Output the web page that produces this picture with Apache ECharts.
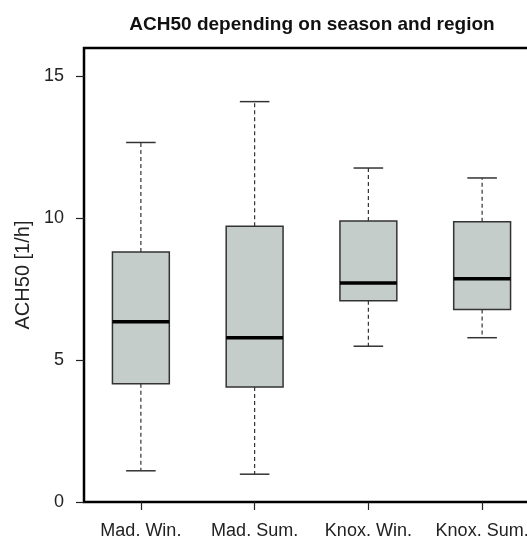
<!DOCTYPE html>
<html>
<head>
<meta charset="utf-8">
<script src="https://cdn.jsdelivr.net/npm/echarts@6/dist/echarts.min.js"></script>
<style>
  html, body { margin: 0; padding: 0; background: #fff; }
  #chart { width: 527px; height: 539px; }
</style>
</head>
<body>
<div id="chart"></div>
<script>
const categories = ['Mad. Win.', 'Mad. Sum.', 'Knox. Win.', 'Knox. Sum.'];
const whiskerLow = [1.10, 0.98, 5.49, 5.79];
const q1 = [4.17, 4.05, 7.09, 6.78];
const median = [6.35, 5.79, 7.72, 7.87];
const q3 = [8.81, 9.72, 9.90, 9.88];
const whiskerHigh = [12.67, 14.11, 11.77, 11.42];
const yTicks = [0, 5, 10, 15];

const boxData = categories.map((c, i) => [i, whiskerLow[i], q1[i], median[i], q3[i], whiskerHigh[i]]);

const myChart = echarts.init(document.getElementById('chart'));

function renderBox(params, api) {
    const i = api.value(0);
    const pLow = api.coord([i, api.value(1)]);
    const pQ1 = api.coord([i, api.value(2)]);
    const pMed = api.coord([i, api.value(3)]);
    const pQ3 = api.coord([i, api.value(4)]);
    const pHigh = api.coord([i, api.value(5)]);
    const band = api.size([1, 0])[0];
    const half = band * 0.25;
    const cap = band * 0.13;
    const x = pMed[0];
    const lineCol = '#333';
    return {
        type: 'group',
        children: [
            { type: 'line', shape: { x1: x, y1: pQ3[1], x2: x, y2: pHigh[1] },
              style: { stroke: lineCol, lineWidth: 1.2, lineDash: [4, 3] } },
            { type: 'line', shape: { x1: x, y1: pQ1[1], x2: x, y2: pLow[1] },
              style: { stroke: lineCol, lineWidth: 1.2, lineDash: [4, 3] } },
            { type: 'line', shape: { x1: x - cap, y1: pHigh[1], x2: x + cap, y2: pHigh[1] },
              style: { stroke: lineCol, lineWidth: 1.5 } },
            { type: 'line', shape: { x1: x - cap, y1: pLow[1], x2: x + cap, y2: pLow[1] },
              style: { stroke: lineCol, lineWidth: 1.5 } },
            { type: 'rect', shape: { x: x - half, y: pQ3[1], width: half * 2, height: pQ1[1] - pQ3[1] },
              style: { fill: '#c5cdcb', stroke: lineCol, lineWidth: 1.5 } },
            { type: 'line', shape: { x1: x - half, y1: pMed[1], x2: x + half, y2: pMed[1] },
              style: { stroke: '#000', lineWidth: 3.5 } }
        ]
    };
}

const option = {
    animation: false,
    title: {
        text: 'ACH50 depending on season and region',
        left: 307,
        textAlign: 'center',
        top: 10,
        textStyle: { fontFamily: 'Liberation Sans', fontWeight: 'bold', fontSize: 19, color: '#111' }
    },
    grid: {
        left: 84,
        top: 48,
        width: 455,
        height: 454,
        outerBoundsMode: 'none',
        containLabel: false,
        show: true,
        borderColor: '#000',
        borderWidth: 2.5,
        backgroundColor: 'transparent'
    },
    xAxis: {
        type: 'category',
        data: categories,
        boundaryGap: true,
        axisLine: { show: false },
        axisTick: { show: true, alignWithLabel: true, length: 8, lineStyle: { color: '#222', width: 1.2 } },
        axisLabel: { margin: 20, fontFamily: 'Liberation Sans', fontSize: 18, color: '#222', interval: 0, hideOverlap: false },
        splitLine: { show: false }
    },
    yAxis: {
        type: 'value',
        min: 0,
        max: 16,
        interval: 5,
        name: 'ACH50 [1/h]',
        nameLocation: 'middle',
        nameGap: 51,
        nameTextStyle: { fontFamily: 'Liberation Sans', fontSize: 20, color: '#222' },
        axisLine: { show: false },
        axisTick: { show: true, length: 8, customValues: yTicks, lineStyle: { color: '#222', width: 1.2 } },
        axisLabel: { margin: 20, customValues: yTicks, fontFamily: 'Liberation Sans', fontSize: 18, color: '#222' },
        splitLine: { show: false }
    },
    series: [{
        type: 'custom',
        renderItem: renderBox,
        encode: { x: 0, y: [1, 2, 3, 4, 5] },
        data: boxData
    }]
};

myChart.setOption(option);
window.addEventListener('resize', () => myChart.resize());
</script>
</body>
</html>
